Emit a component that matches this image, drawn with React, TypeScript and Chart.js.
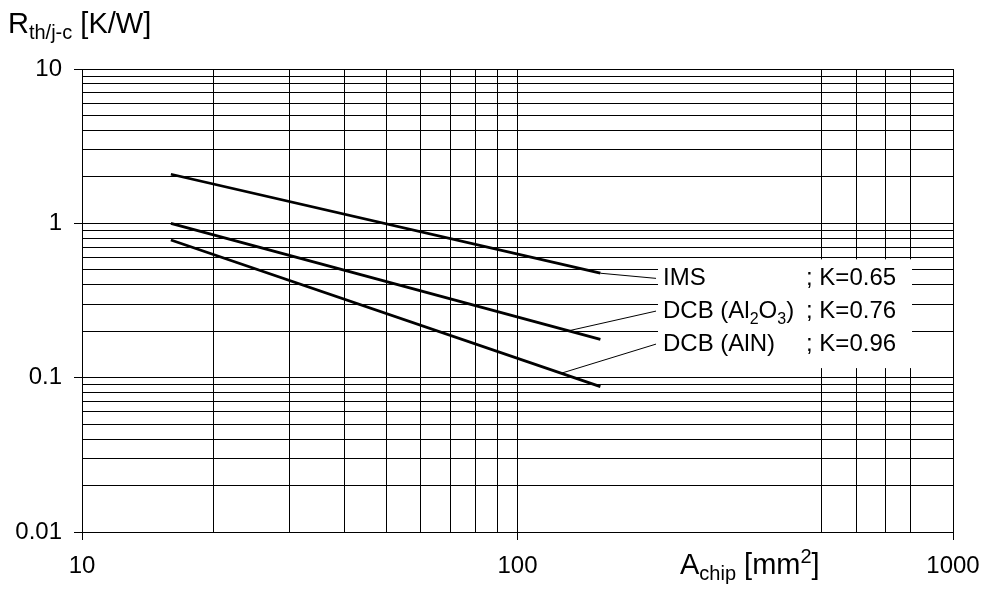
import React, { useEffect, useRef } from "react";
import { Chart, registerables } from "chart.js";

Chart.register(...registerables);

// ---- data ----
const chipArea: number[] = [16, 155]; // mm^2, start / end of each line
const imsValues: number[] = [2.08, 0.475];
const dcbAl2O3Values: number[] = [1.0, 0.177];
const dcbAlNValues: number[] = [0.78, 0.0875];

const seriesNames: string[] = ["IMS", "DCB (Al_2O_3)", "DCB (AlN)"];
const kLabels: string[] = ["; K=0.65", "; K=0.76", "; K=0.96"];
// where each leader line leaves its curve (x in mm^2)
const leaderFromX: number[] = [155, 131, 126];
// label anchor (end of leader line), data coordinates
const labelAnchorX: number[] = [208, 208, 208];
const labelAnchorY: number[] = [0.44, 0.27, 0.165];

const xGridValues: number[] = [10, 20, 30, 40, 50, 60, 70, 80, 90, 100, 500, 600, 700, 800, 1000];
const yGridValues: number[] = [
  0.01, 0.02, 0.03, 0.04, 0.05, 0.06, 0.07, 0.08, 0.09,
  0.1, 0.2, 0.3, 0.4, 0.5, 0.6, 0.7, 0.8, 0.9,
  1, 2, 3, 4, 5, 6, 7, 8, 9, 10,
];
const xTickLabels: number[] = [10, 100, 1000];
const yTickLabels: number[] = [0.01, 0.1, 1, 10];

const yTitle = "R_{th/j-c} [K/W]";
const xTitle = "A_{chip} [mm^{2}]";

const FONT = "'Liberation Sans', Arial, Helvetica, sans-serif";

type Seg = { t: string; k: "n" | "sub" | "sup" };
function parseRich(s: string): Seg[] {
  const out: Seg[] = [];
  let i = 0;
  let buf = "";
  while (i < s.length) {
    const c = s[i];
    if (c === "_" || c === "^") {
      if (buf) { out.push({ t: buf, k: "n" }); buf = ""; }
      let t = "";
      if (s[i + 1] === "{") {
        const j = s.indexOf("}", i + 2);
        t = s.slice(i + 2, j);
        i = j + 1;
      } else {
        t = s[i + 1];
        i += 2;
      }
      out.push({ t, k: c === "_" ? "sub" : "sup" });
    } else {
      buf += c;
      i++;
    }
  }
  if (buf) out.push({ t: buf, k: "n" });
  return out;
}

function drawRich(
  ctx: CanvasRenderingContext2D, s: string, x: number, y: number,
  size: number, small: number, subOff: number, supOff: number
) {
  ctx.save();
  ctx.textBaseline = "alphabetic";
  ctx.textAlign = "left";
  ctx.fillStyle = "#000";
  let cx = x;
  for (const seg of parseRich(s)) {
    const fs = seg.k === "n" ? size : small;
    ctx.font = `${fs}px ${FONT}`;
    const dy = seg.k === "sub" ? subOff : seg.k === "sup" ? -supOff : 0;
    ctx.fillText(seg.t, cx, y + dy);
    cx += ctx.measureText(seg.t).width;
  }
  ctx.restore();
}

function onLine(xs: number[], ys: number[], x: number): number {
  const slope = Math.log(ys[1] / ys[0]) / Math.log(xs[1] / xs[0]);
  return ys[0] * Math.pow(x / xs[0], slope);
}

const isDecade = (v: number) => Math.abs(Math.log10(v) - Math.round(Math.log10(v))) < 1e-6;

const annotationPlugin = {
  id: "annotations",
  afterDatasetsDraw(chart: any) {
    const ctx: CanvasRenderingContext2D = chart.ctx;
    const xs = chart.scales.x;
    const ys = chart.scales.y;
    const series = [imsValues, dcbAl2O3Values, dcbAlNValues];
    const ax = labelAnchorX.map((v) => xs.getPixelForValue(v));
    const ay = labelAnchorY.map((v) => ys.getPixelForValue(v));

    // white label box
    ctx.save();
    ctx.fillStyle = "#fff";
    const left = ax[0] + 2;
    const top = ay[0] - 19;
    const right = ax[0] + 256;
    const bottom = ay[ay.length - 1] + 24;
    ctx.fillRect(left, top, right - left, bottom - top);

    // leader lines
    ctx.strokeStyle = "#000";
    ctx.lineWidth = 1;
    series.forEach((vals, i) => {
      const fx = leaderFromX[i];
      const fy = onLine(chipArea, vals, fx);
      ctx.beginPath();
      ctx.moveTo(xs.getPixelForValue(fx), ys.getPixelForValue(fy));
      ctx.lineTo(ax[i], ay[i]);
      ctx.stroke();
    });
    ctx.restore();

    // labels
    seriesNames.forEach((name, i) => {
      drawRich(ctx, name, ax[i] + 7, ay[i] + 7, 24, 16, 6, 10);
      drawRich(ctx, kLabels[i], ax[i] + 150, ay[i] + 7, 24, 16, 6, 10);
    });

    // axis titles
    drawRich(ctx, yTitle, 8, 33, 29, 20, 6, 11);
    drawRich(ctx, xTitle, 680, 574, 29, 20, 6, 11);
  },
};

export default function App() {
  const ref = useRef<HTMLCanvasElement | null>(null);
  useEffect(() => {
    if (!ref.current) return;
    const mk = (vals: number[]) => chipArea.map((x, i) => ({ x, y: vals[i] }));
    const lineStyle = {
      borderColor: "#000",
      borderWidth: 2.8,
      pointRadius: 0,
      fill: false,
      tension: 0,
    };
    const chart = new Chart(ref.current, {
      type: "line",
      data: {
        datasets: [
          { label: "IMS", data: mk(imsValues), ...lineStyle },
          { label: "DCB (Al2O3)", data: mk(dcbAl2O3Values), ...lineStyle },
          { label: "DCB (AlN)", data: mk(dcbAlNValues), ...lineStyle },
        ],
      },
      options: {
        animation: false,
        responsive: false,
        devicePixelRatio: 1,
        layout: { padding: { top: 69, right: 28, left: 0, bottom: 0 } },
        plugins: { legend: { display: false }, tooltip: { enabled: false } },
        scales: {
          x: {
            type: "logarithmic",
            min: 10,
            max: 1000,
            afterBuildTicks: (scale: any) => {
              scale.ticks = xGridValues.map((v) => ({ value: v }));
            },
            afterFit: (scale: any) => {
              scale.height = 57;
              scale.paddingLeft = 0;
              scale.paddingRight = 0;
            },
            ticks: {
              autoSkip: false,
              maxRotation: 0,
              padding: 12,
              color: "#000",
              font: { family: FONT, size: 24 },
              callback: (v: any) => (xTickLabels.includes(Number(v)) ? String(v) : ""),
            },
            grid: {
              color: "#000",
              lineWidth: 1,
              tickLength: 8,
              tickColor: (c: any) => (c.tick && isDecade(c.tick.value) ? "#000" : "rgba(0,0,0,0)"),
            },
            border: { display: true, color: "#000", width: 1 },
          },
          y: {
            type: "logarithmic",
            min: 0.01,
            max: 10,
            afterBuildTicks: (scale: any) => {
              scale.ticks = yGridValues.map((v) => ({ value: v }));
            },
            afterFit: (scale: any) => {
              scale.width = 82;
              scale.paddingTop = 0;
              scale.paddingBottom = 0;
            },
            ticks: {
              autoSkip: false,
              padding: 12,
              color: "#000",
              font: { family: FONT, size: 24 },
              callback: (v: any) => {
                const n = Number(v);
                const hit = yTickLabels.find((t) => Math.abs(t - n) / t < 1e-6);
                return hit !== undefined ? String(hit) : "";
              },
            },
            grid: {
              color: "#000",
              lineWidth: 1,
              tickLength: 8,
              tickColor: (c: any) => (c.tick && isDecade(c.tick.value) ? "#000" : "rgba(0,0,0,0)"),
            },
            border: { display: true, color: "#000", width: 1 },
          },
        },
      },
      plugins: [annotationPlugin],
    } as any);
    return () => chart.destroy();
  }, []);
  return (
    <div style={{ position: "fixed", left: 0, top: 0, width: 981, height: 589, background: "#fff" }}>
      <canvas ref={ref} width={981} height={589} style={{ width: 981, height: 589, display: "block" }} />
    </div>
  );
}
